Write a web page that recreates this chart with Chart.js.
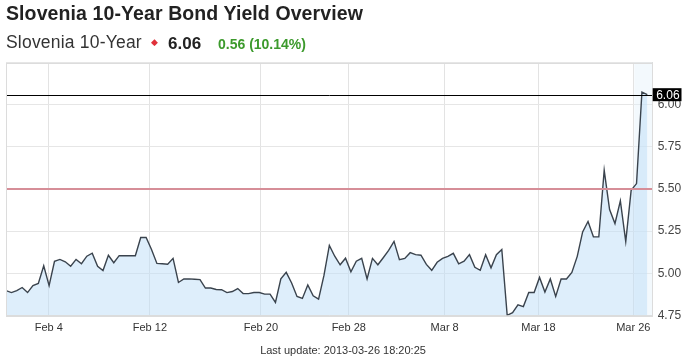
<!DOCTYPE html>
<html><head><meta charset="utf-8">
<script src="https://cdn.jsdelivr.net/npm/chart.js@4/dist/chart.umd.min.js"></script>
<style>
html,body{margin:0;padding:0;background:#fff;}
#wrap{position:relative;width:682px;height:357px;overflow:hidden;font-family:"Liberation Sans",Arial,sans-serif;}
#chart{position:absolute;left:0;top:0;}
.t{position:absolute;white-space:nowrap;}
#title{left:6px;top:4.2px;font-size:19.5px;line-height:19.5px;font-weight:bold;color:#222;letter-spacing:0.1px;}
#sub{left:6px;top:34.4px;font-size:17.5px;line-height:17.5px;color:#333;letter-spacing:0.2px;}
#arrow{left:151px;top:38px;font-size:9px;line-height:9px;color:#e0303a;}
#last{left:168px;top:34.6px;font-size:17px;line-height:17px;font-weight:bold;color:#222;}
#chg{left:218px;top:36.6px;font-size:14px;line-height:14px;font-weight:bold;color:#3c9a2c;}
#foot{left:0;width:686px;text-align:center;top:344.7px;font-size:11px;line-height:11px;color:#333;}
</style>
</head><body>
<div id="wrap">
<canvas id="chart" width="682" height="357"></canvas>
<div class="t" id="title">Slovenia 10-Year Bond Yield Overview</div>
<div class="t" id="sub">Slovenia 10-Year</div>
<div class="t" id="arrow">&#9670;</div>
<div class="t" id="last">6.06</div>
<div class="t" id="chg">0.56 (10.14%)</div>
<div class="t" id="foot">Last update: 2013-03-26 18:20:25</div>
</div>
<script>
// Yield series (one value per sample)
const yields = [
4.897,4.885,4.897,4.915,4.885,4.927,4.939,5.044,4.926,5.071,
5.082,5.068,5.041,5.082,5.056,5.101,5.119,5.041,5.016,5.106,
5.062,5.104,5.104,5.104,5.104,5.212,5.212,5.141,5.058,5.056,
5.053,5.088,4.945,4.966,4.966,4.964,4.962,4.912,4.912,4.903,
4.902,4.885,4.891,4.909,4.879,4.879,4.885,4.885,4.876,4.876,
4.826,4.966,5.005,4.942,4.862,4.850,4.930,4.866,4.846,4.987,
5.165,5.101,5.050,5.089,5.008,5.071,5.088,4.966,5.088,5.050,
5.092,5.135,5.189,5.080,5.088,5.122,5.110,5.107,5.052,5.017,
5.065,5.088,5.100,5.118,5.056,5.071,5.110,5.035,5.017,5.110,
5.032,5.110,5.141,4.750,4.766,4.812,4.802,4.885,4.885,4.975,
4.888,4.966,4.862,4.966,4.966,5.005,5.100,5.245,5.307,5.216,
5.216,5.611,5.378,5.295,5.429,5.188,5.492,5.532,6.075,6.060
];
// Date labels and the sample position where each day starts
const xTickLabels = ['Feb 4','Feb 12','Feb 20','Feb 28','Mar 8','Mar 18','Mar 26'];
const xTickIndex  = [7.95, 26.7, 47.3, 63.6, 81.4, 98.8, 116.4];
const yTickValues = [4.75, 5.00, 5.25, 5.50, 5.75, 6.00, 6.25];
const yMin = 4.75, yMax = 6.25, xMax = 120;
const prevClose = 5.50;
const lastValue = 6.06;

const FONT = '"Liberation Sans", Arial, sans-serif';

const refPlugin = {
  id: 'refs',
  beforeDatasetsDraw(chart) {
    const {ctx, chartArea: a, scales: {x}} = chart;
    const bx = x.getPixelForValue(xTickIndex[xTickIndex.length - 1]) + 1;
    ctx.save();
    ctx.fillStyle = 'rgba(226,239,251,0.4)';
    ctx.fillRect(bx, a.top, a.right - bx, a.bottom - a.top);
    ctx.restore();
  },
  afterDatasetsDraw(chart) {
    const {ctx, chartArea: a, scales: {y}} = chart;
    ctx.save();
    const yp = y.getPixelForValue(prevClose);
    ctx.strokeStyle = 'rgb(214,142,152)';
    ctx.lineWidth = 2;
    ctx.beginPath(); ctx.moveTo(a.left, yp); ctx.lineTo(a.right, yp); ctx.stroke();
    const yl = Math.round(y.getPixelForValue(lastValue)) + 0.5;
    ctx.strokeStyle = '#000';
    ctx.lineWidth = 1;
    ctx.beginPath(); ctx.moveTo(a.left, yl); ctx.lineTo(a.right, yl); ctx.stroke();
    ctx.restore();
  },
  afterDraw(chart) {
    const {ctx, chartArea: a, scales: {y}} = chart;
    ctx.save();
    ctx.strokeStyle = '#dcdcdc';
    ctx.lineWidth = 1;
    ctx.strokeRect(Math.round(a.left) + 0.5, Math.round(a.top) + 0.5,
                   Math.round(a.right - a.left) - 1, Math.round(a.bottom - a.top));
    const yl = y.getPixelForValue(lastValue);
    ctx.fillStyle = '#000';
    ctx.fillRect(a.right, yl - 6.5, 682 - a.right - 0.5, 13);
    ctx.fillStyle = '#fff';
    ctx.font = '12px ' + FONT;
    ctx.textBaseline = 'middle';
    ctx.textAlign = 'left';
    ctx.fillText(lastValue.toFixed(2), a.right + 3.5, yl + 0.5);
    ctx.restore();
  }
};

new Chart(document.getElementById('chart'), {
  type: 'line',
  data: {
    datasets: [{
      data: yields.map((v, i) => ({x: i, y: v})),
      borderColor: '#3a434d',
      borderWidth: 1.4,
      backgroundColor: 'rgba(190,222,248,0.5)',
      fill: 'start',
      pointRadius: 0,
      tension: 0
    }]
  },
  options: {
    responsive: false,
    animation: false,
    devicePixelRatio: 1,
    layout: {padding: {left: 6, top: 62.7, right: 0, bottom: 21.7}},
    plugins: {legend: {display: false}, tooltip: {enabled: false}, title: {display: false}},
    scales: {
      x: {
        type: 'linear', min: 0, max: xMax,
        afterBuildTicks: s => { s.ticks = xTickIndex.map(v => ({value: v})); },
        afterFit: s => { s.height = 20; },
        grid: {color: '#e3e3e3', drawTicks: false},
        border: {display: true, color: '#dcdcdc'},
        ticks: {
          autoSkip: false, maxRotation: 0, minRotation: 0, padding: 6,
          color: '#333', font: {size: 11, family: FONT},
          callback: (v, i) => xTickLabels[i]
        }
      },
      y: {
        position: 'right', min: yMin, max: yMax,
        afterBuildTicks: s => { s.ticks = yTickValues.map(v => ({value: v})); },
        afterFit: s => { s.width = 29.3; },
        grid: {color: '#e6e6e6', drawTicks: false},
        border: {display: true, color: '#dcdcdc'},
        ticks: {
          padding: 5, color: '#444', font: {size: 12, family: FONT},
          callback: v => (v >= yMax ? '' : Number(v).toFixed(2))
        }
      }
    }
  },
  plugins: [refPlugin]
});
</script>
</body></html>
